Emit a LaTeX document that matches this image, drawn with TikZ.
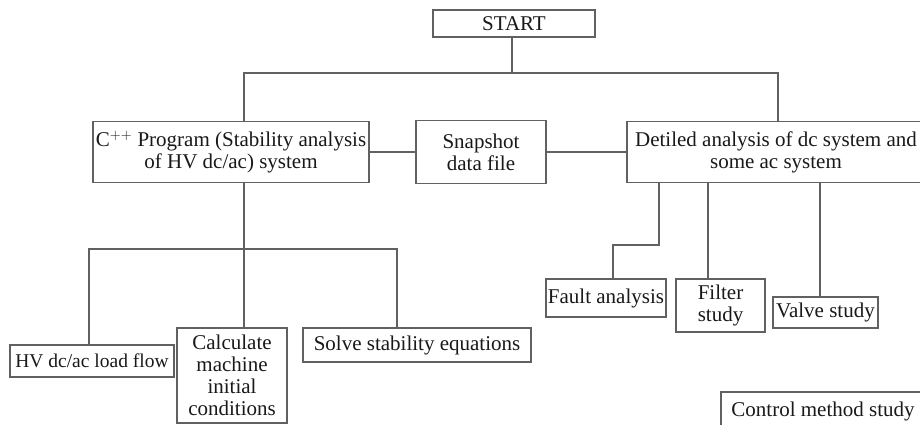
\documentclass[tikz,border=0pt]{standalone}
\usepackage{fontspec}
\setmainfont{Liberation Serif}
\definecolor{linegray}{gray}{0.38}
\definecolor{textdark}{gray}{0.1}
\begin{document}
\begin{tikzpicture}[x=1pt,y=-1pt,
  box/.style={draw=linegray, line width=1.8pt, inner sep=0pt, align=center,
    font=\fontsize{21}{22}\selectfont, text=textdark},
  wire/.style={draw=linegray, line width=1.8pt}]
\useasboundingbox (0,0) rectangle (920,425);
\clip (0,0) rectangle (920,425);
\fill[white] (0,0) rectangle (920,425);

% nodes
\node[box, minimum width=162pt, minimum height=27pt] (start) at (514,23.5) {START};
\node[box, minimum width=276pt, minimum height=61pt] (cpp) at (231,152) {C$^{++}$ Program (Stability analysis\\of HV dc/ac) system};
\node[box, minimum width=130pt, minimum height=63pt] (snap) at (481,152) {Snapshot\\data file};
\node[box, minimum width=298pt, minimum height=61pt] (det) at (776,152) {Detiled analysis of dc system and\\some ac system};

\node[box, minimum width=164pt, minimum height=32pt, font=\fontsize{19.5}{22}\selectfont] (hv) at (92,361) {HV dc/ac load flow};
\node[box, minimum width=110pt, minimum height=95pt] (calc) at (232,375.5) {Calculate\\machine\\initial\\conditions};
\node[box, minimum width=228pt, minimum height=34pt] (solve) at (417,345) {Solve stability equations};

\node[box, minimum width=120pt, minimum height=38pt] (fault) at (606,298) {Fault analysis};
\node[box, minimum width=89pt, minimum height=53pt] (filter) at (720.5,305.5) {Filter\\study};
\node[box, minimum width=105pt, minimum height=31pt] (valve) at (825.5,312.5) {Valve study};
\node[box, minimum width=204pt, minimum height=38pt] (control) at (823,411) {Control method study};

% top connectors
\coordinate (j0) at (512,73);
\coordinate (jl) at (244,73);
\coordinate (jr) at (778,73);
\draw[wire] (start.south -| j0) -- (j0);
\draw[wire] (jl |- cpp.north) -- (jl) -- (jr) -- (jr |- det.north);
\draw[wire] (cpp.east) -- (snap.west);
\draw[wire] (snap.east) -- (det.west);

% left branch
\coordinate (b0) at (244,249);
\coordinate (bl) at (89,249);
\coordinate (br) at (397,249);
\draw[wire] (cpp.south -| b0) -- (b0);
\draw[wire] (bl |- hv.north) -- (bl) -- (br) -- (br |- solve.north);
\draw[wire] (b0) -- (b0 |- calc.north);

% right branch
\coordinate (f1) at (659,245);
\coordinate (f2) at (613,245);
\coordinate (fl) at (708,245);
\coordinate (vl) at (820,245);
\draw[wire] (det.south -| f1) -- (f1) -- (f2) -- (f2 |- fault.north);
\draw[wire] (det.south -| fl) -- (fl |- filter.north);
\draw[wire] (det.south -| vl) -- (vl |- valve.north);
\end{tikzpicture}
\end{document}
